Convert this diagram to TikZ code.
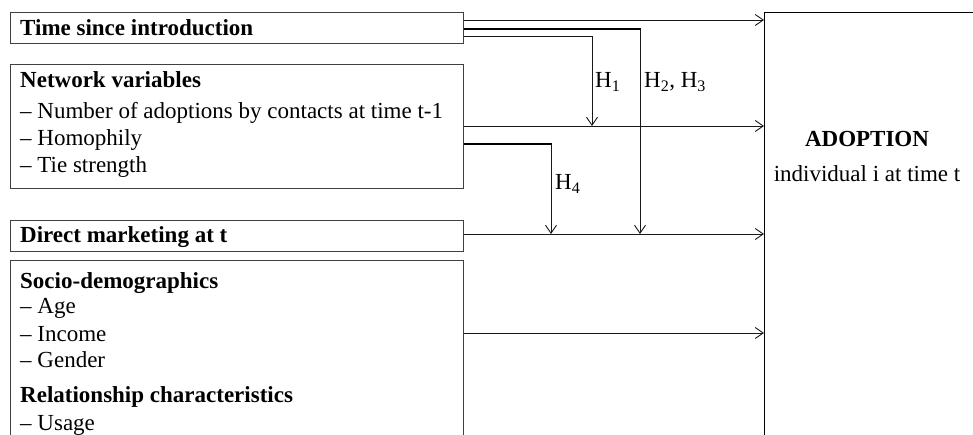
\documentclass[tikz,border=0pt]{standalone}
\usepackage{fontspec}
\setmainfont{Liberation Serif}
\usetikzlibrary{arrows.meta}
\begin{document}
\begin{tikzpicture}[x=1pt,y=-1pt,
  box/.style={draw=black!75,line width=0.9pt,inner sep=0pt,anchor=north west},
  txt/.style={anchor=base west,inner sep=0pt,font=\fontsize{23}{27}\selectfont},
  btxt/.style={txt,font=\fontsize{23}{27}\selectfont\bfseries},
  conn/.style={line width=0.9pt,black!90},
  thk/.style={line width=1.8pt,black},
  tip/.style={-{Straight Barb[length=8pt,width=11pt,line width=0.9pt]}}
]
\useasboundingbox (0,0) rectangle (973,435);
\clip (0,0) rectangle (973,435);

% left boxes
\node[box,minimum width=453pt,minimum height=31pt] (tsi) at (10,12) {};
\node[box,minimum width=453pt,minimum height=124pt] (net) at (10,64) {};
\node[box,minimum width=453pt,minimum height=31pt] (dm) at (10,220) {};
\node[box,minimum width=453pt,minimum height=200pt] (soc) at (10,260) {};
% adoption box
\node[box,draw=black,minimum width=260pt,minimum height=460pt] (ad) at (764,12) {};

% texts
\node[btxt] (t1) at (20,35.5) {Time since introduction};
\node[btxt] (t2) at (20,88) {Network variables};
\node[txt] (t3) at (20,119) {– Number of adoptions by contacts at time t-1};
\node[txt] (t4) at (20,146) {– Homophily};
\node[txt] (t5) at (20,173) {– Tie strength};
\node[btxt] (t6) at (20,243) {Direct marketing at t};
\node[btxt] (t7) at (20,288) {Socio-demographics};
\node[txt] (t8) at (20,313) {– Age};
\node[txt] (t9) at (20,341) {– Income};
\node[txt] (t10) at (20,367) {– Gender};
\node[btxt] (t11) at (20,402) {Relationship characteristics};
\node[txt] (t12) at (20,430) {– Usage};

\node[btxt,anchor=base] (a1) at (867,147) {ADOPTION};
\node[txt,anchor=base] (a2) at (867,182) {individual i at time t};

% coordinates
\coordinate (k1) at (592,36);
\coordinate (k1e) at (592,126);
\coordinate (k2) at (640,29);
\coordinate (k2e) at (640,234);
\coordinate (k4) at (551,144);
\coordinate (k4e) at (551,234);

% straight connectors
\draw[conn,tip] (tsi.east |- 0,20) -- (ad.west |- 0,20);
\draw[conn,tip] (net.east |- 0,126) -- (ad.west |- 0,126);
\draw[conn,tip] (dm.east |- 0,234) -- (ad.west |- 0,234);
\draw[conn,tip] (soc.east |- 0,333) -- (ad.west |- 0,333);

% moderating connectors
\draw[conn] (tsi.east |- k1) -- (k1);
\draw[conn,tip] (k1) -- (k1e);
\draw[thk] (tsi.east |- k2) -- ([xshift=0.9pt]k2);
\draw[conn,tip] (k2) -- (k2e);
\draw[thk] (net.east |- k4) -- ([xshift=0.9pt]k4);
\draw[conn,tip] (k4) -- (k4e);

% labels
\node[txt] (h1) at (595,88) {H\textsubscript{1}};
\node[txt] (h23) at (644,88) {H\textsubscript{2}, H\textsubscript{3}};
\node[txt] (h4) at (555,190) {H\textsubscript{4}};
\end{tikzpicture}
\end{document}
